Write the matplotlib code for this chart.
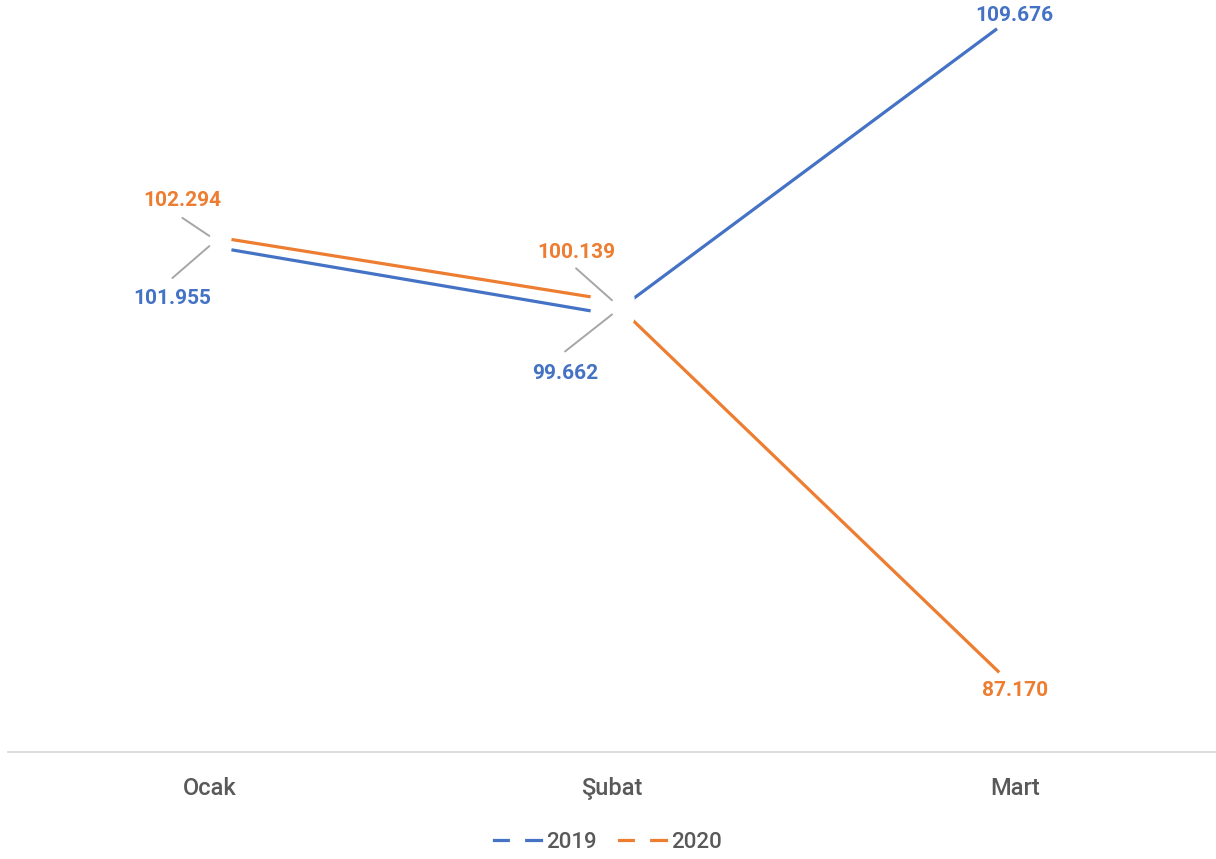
import matplotlib.pyplot as plt
from matplotlib.lines import Line2D

plt.rcParams['font.family'] = ['Roboto', 'DejaVu Sans']

# data
months = ["Ocak", "Şubat", "Mart"]
values_2019 = [101.955, 99.662, 109.676]
values_2020 = [102.294, 100.139, 87.170]
labels_2019 = ["101.955", "99.662", "109.676"]
labels_2020 = ["102.294", "100.139", "87.170"]

blue = "#4472C4"
orange = "#ED7D31"
grey_text = "#595959"
leader = "#A6A6A6"

fig = plt.figure(figsize=(12.16, 8.59), dpi=100)
ax = fig.add_axes([8 / 1216, 1 - 752 / 859, 1208 / 1216, 746 / 859])

x = list(range(len(months)))
ax.plot(x, values_2019, color=blue, lw=2.3, zorder=2, solid_capstyle='butt')
ax.plot(x, values_2020, color=orange, lw=2.3, zorder=2, solid_capstyle='butt')

# white markers (hide the line near each point, like the original)
for vals in (values_2019, values_2020):
    ax.plot(x, vals, ls='none', marker='o', ms=31, mfc='white', mec='white',
            zorder=3, clip_on=False)

# data label offsets in points, and leader line start (None = no leader)
offs_2019 = [(-26.6, -37.4), (-33.8, -42.5), (0, 0)]
offs_2020 = [(-19.4, 25.2), (-25.9, 34.6), (0, -2)]
lead_2019 = [(-26.6, -23), (-33.8, -26.6), None]
lead_2020 = [(-19.4, 13), (-25.9, 23), None]

for vals, labs, offs, leads, col in (
        (values_2019, labels_2019, offs_2019, lead_2019, blue),
        (values_2020, labels_2020, offs_2020, lead_2020, orange)):
    for xi, v, lab, off, ld in zip(x, vals, labs, offs, leads):
        if ld is not None:
            ax.annotate('', (xi, v), xytext=ld, textcoords='offset points',
                        arrowprops=dict(arrowstyle='-', color=leader, lw=1.4,
                                        shrinkA=0, shrinkB=0),
                        zorder=4, annotation_clip=False)
        ax.annotate(lab, (xi, v), xytext=off, textcoords='offset points',
                    ha='center', va='center', fontsize=15, fontweight='bold',
                    color=col, zorder=5, annotation_clip=False)

ax.set_xlim(-0.5, 2.5)
ax.set_ylim(85, 110)
ax.set_xticks(x)
ax.set_xticklabels(months, fontsize=17, fontweight='medium', color=grey_text)
ax.tick_params(axis='x', length=0, pad=18)
ax.set_yticks([])
for side in ('top', 'right', 'left'):
    ax.spines[side].set_visible(False)
ax.spines['bottom'].set_color('#D9D9D9')
ax.spines['bottom'].set_linewidth(1.3)

handles = [Line2D([], [], color=c, lw=2.3, marker='o', ms=10, mfc='white', mec='white')
           for c in (blue, orange)]
leg = fig.legend(handles, ["2019", "2020"], loc='center', bbox_to_anchor=(0.5, 1 - 842 / 859),
                 ncol=2, frameon=False, prop={'size': 16, 'weight': 'medium'},
                 handlelength=2.1, handletextpad=0.25, columnspacing=1.0)
for t in leg.get_texts():
    t.set_color(grey_text)

fig.savefig("out.png", dpi=100)
